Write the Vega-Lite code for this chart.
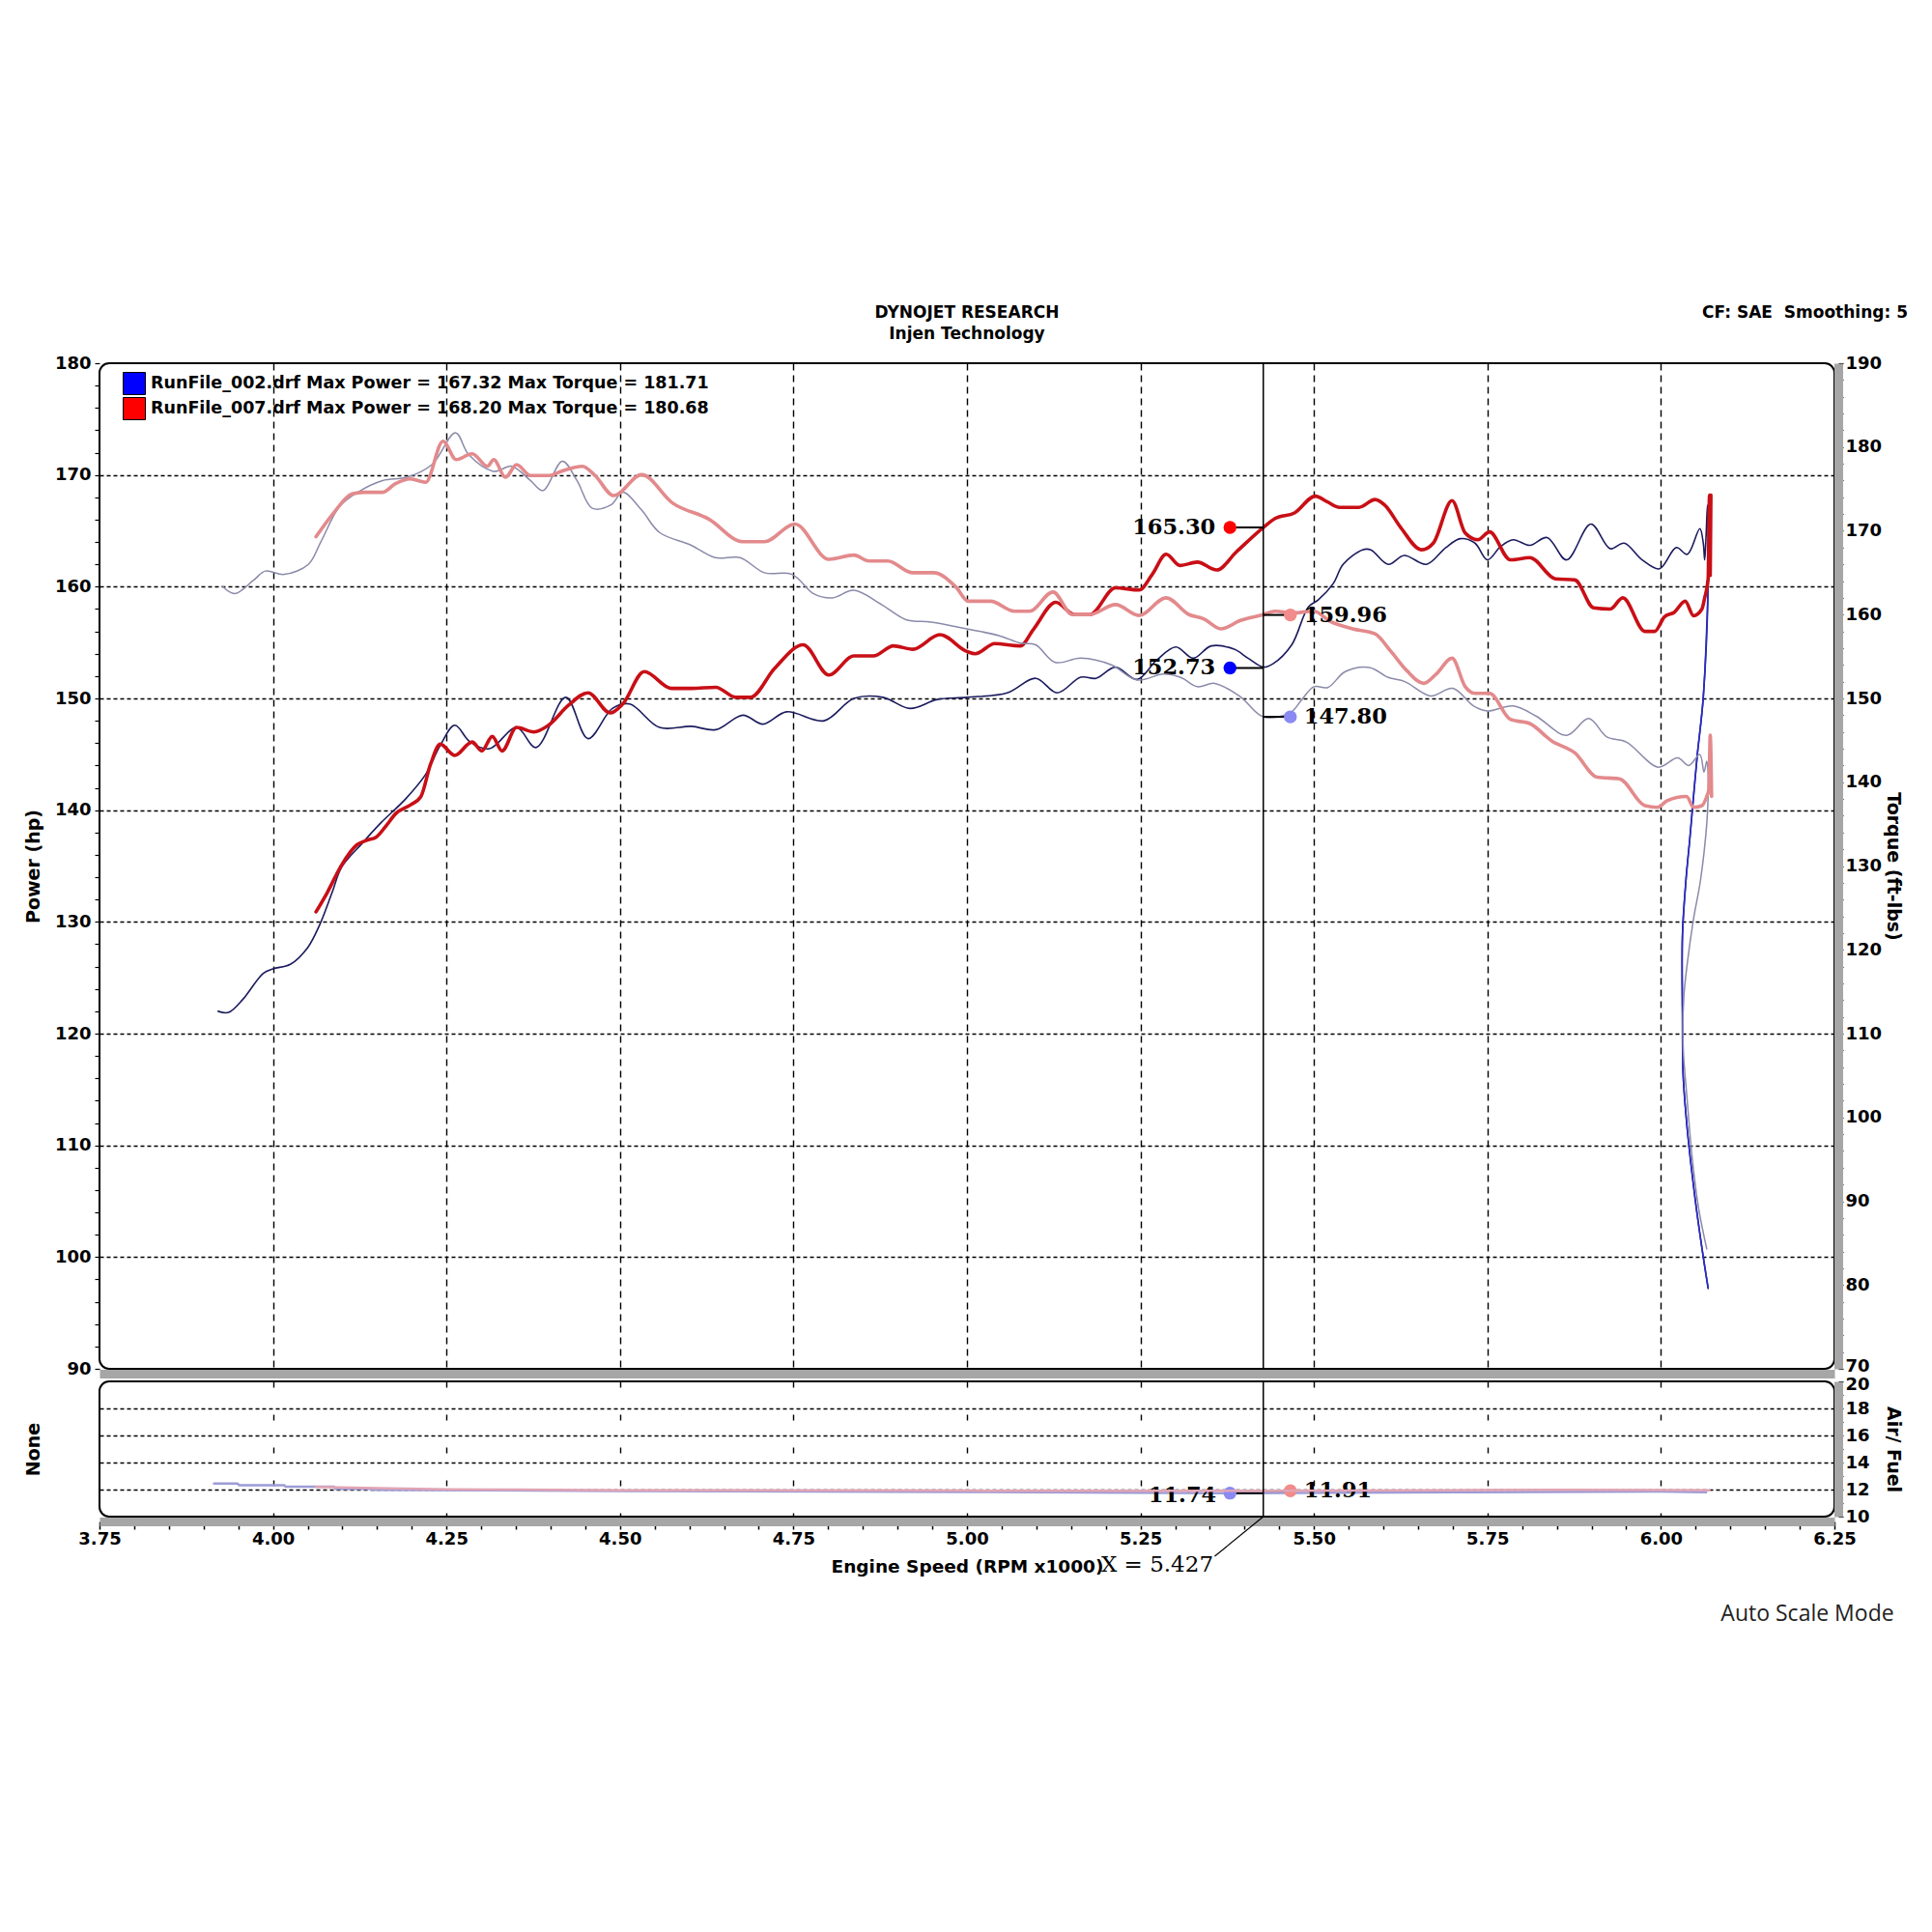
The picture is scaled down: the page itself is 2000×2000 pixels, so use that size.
{
  "$schema": "https://vega.github.io/schema/vega-lite/v6.json",
  "background": "#ffffff",
  "padding": {"left": 24, "top": 314, "right": 5, "bottom": 5},
  "title": {"text": "CF: SAE\u00a0 Smoothing: 5", "anchor": "end", "frame": "bounds", "font": "DejaVu Sans", "fontSize": 17, "fontWeight": "bold", "color": "#000000", "offset": -19, "dx": 6},
  "datasets": {
    "p2": [
      {"rpm":3.921,"hp":122.0,"i":0},{"rpm":3.936,"hp":121.9,"i":1},{"rpm":3.957,"hp":123.1,"i":2},{"rpm":3.986,"hp":125.4,"i":3},{"rpm":4.000,"hp":125.8,"i":4},{"rpm":4.025,"hp":126.2,"i":5},{"rpm":4.050,"hp":127.7,"i":6},{"rpm":4.067,"hp":129.7,"i":7},{"rpm":4.085,"hp":132.6,"i":8},{"rpm":4.099,"hp":134.9,"i":9},
      {"rpm":4.128,"hp":137.0,"i":10},{"rpm":4.156,"hp":138.9,"i":11},{"rpm":4.191,"hp":141.0,"i":12},{"rpm":4.220,"hp":143.2,"i":13},{"rpm":4.241,"hp":145.8,"i":14},{"rpm":4.262,"hp":147.6,"i":15},{"rpm":4.284,"hp":146.1,"i":16},{"rpm":4.312,"hp":145.5,"i":17},{"rpm":4.351,"hp":147.4,"i":18},{"rpm":4.379,"hp":145.6,"i":19},
      {"rpm":4.422,"hp":150.1,"i":20},{"rpm":4.454,"hp":146.4,"i":21},{"rpm":4.489,"hp":149.1,"i":22},{"rpm":4.514,"hp":149.5,"i":23},{"rpm":4.557,"hp":147.4,"i":24},{"rpm":4.603,"hp":147.5,"i":25},{"rpm":4.638,"hp":147.2,"i":26},{"rpm":4.677,"hp":148.5,"i":27},{"rpm":4.706,"hp":147.7,"i":28},{"rpm":4.740,"hp":148.8,"i":29},
      {"rpm":4.794,"hp":148.0,"i":30},{"rpm":4.837,"hp":150.0,"i":31},{"rpm":4.879,"hp":150.1,"i":32},{"rpm":4.918,"hp":149.1,"i":33},{"rpm":4.957,"hp":149.9,"i":34},{"rpm":5.000,"hp":150.1,"i":35},{"rpm":5.058,"hp":150.5,"i":36},{"rpm":5.099,"hp":151.8,"i":37},{"rpm":5.130,"hp":150.5,"i":38},{"rpm":5.164,"hp":151.9,"i":39},
      {"rpm":5.186,"hp":151.8,"i":40},{"rpm":5.214,"hp":152.8,"i":41},{"rpm":5.245,"hp":151.7,"i":42},{"rpm":5.273,"hp":153.4,"i":43},{"rpm":5.301,"hp":154.6,"i":44},{"rpm":5.326,"hp":153.6,"i":45},{"rpm":5.352,"hp":154.7,"i":46},{"rpm":5.385,"hp":154.4,"i":47},{"rpm":5.405,"hp":153.6,"i":48},{"rpm":5.427,"hp":152.8,"i":49},
      {"rpm":5.441,"hp":153.1,"i":50},{"rpm":5.468,"hp":154.8,"i":51},{"rpm":5.492,"hp":158.2,"i":52},{"rpm":5.506,"hp":158.8,"i":53},{"rpm":5.528,"hp":160.3,"i":54},{"rpm":5.542,"hp":162.0,"i":55},{"rpm":5.570,"hp":163.3,"i":56},{"rpm":5.582,"hp":163.3,"i":57},{"rpm":5.607,"hp":162.0,"i":58},{"rpm":5.630,"hp":162.8,"i":59},
      {"rpm":5.662,"hp":162.0,"i":60},{"rpm":5.690,"hp":163.5,"i":61},{"rpm":5.711,"hp":164.3,"i":62},{"rpm":5.732,"hp":163.9,"i":63},{"rpm":5.750,"hp":162.4,"i":64},{"rpm":5.769,"hp":163.6,"i":65},{"rpm":5.787,"hp":164.2,"i":66},{"rpm":5.811,"hp":163.7,"i":67},{"rpm":5.836,"hp":164.4,"i":68},{"rpm":5.864,"hp":162.4,"i":69},
      {"rpm":5.899,"hp":165.6,"i":70},{"rpm":5.927,"hp":163.4,"i":71},{"rpm":5.947,"hp":163.9,"i":72},{"rpm":5.973,"hp":162.4,"i":73},{"rpm":5.998,"hp":161.6,"i":74},{"rpm":6.022,"hp":163.5,"i":75},{"rpm":6.038,"hp":162.9,"i":76},{"rpm":6.056,"hp":165.2,"i":77},{"rpm":6.061,"hp":163.9,"i":78},{"rpm":6.063,"hp":162.4,"i":79},
      {"rpm":6.065,"hp":164.5,"i":80},{"rpm":6.067,"hp":167.3,"i":81},{"rpm":6.068,"hp":160.1,"i":82},{"rpm":6.061,"hp":150.1,"i":83},{"rpm":6.052,"hp":144.7,"i":84},{"rpm":6.042,"hp":137.7,"i":85},{"rpm":6.036,"hp":133.7,"i":86},{"rpm":6.031,"hp":128.8,"i":87},{"rpm":6.031,"hp":121.8,"i":88},{"rpm":6.032,"hp":116.3,"i":89},
      {"rpm":6.038,"hp":111.4,"i":90},{"rpm":6.045,"hp":107.4,"i":91},{"rpm":6.052,"hp":103.9,"i":92},{"rpm":6.061,"hp":100.0,"i":93},{"rpm":6.068,"hp":97.2,"i":94}
    ],
    "p7": [
      {"rpm":4.062,"hp":130.9},{"rpm":4.078,"hp":132.6},{"rpm":4.099,"hp":135.1},{"rpm":4.121,"hp":136.9},{"rpm":4.135,"hp":137.3},{"rpm":4.149,"hp":137.6},{"rpm":4.163,"hp":138.6},{"rpm":4.177,"hp":139.7},{"rpm":4.199,"hp":140.5},{"rpm":4.213,"hp":141.2},
      {"rpm":4.227,"hp":144.1},{"rpm":4.241,"hp":145.9},{"rpm":4.262,"hp":144.9},{"rpm":4.287,"hp":146.1},{"rpm":4.301,"hp":145.3},{"rpm":4.316,"hp":146.6},{"rpm":4.330,"hp":145.3},{"rpm":4.351,"hp":147.4},{"rpm":4.376,"hp":147.0},{"rpm":4.397,"hp":147.6},
      {"rpm":4.426,"hp":149.4},{"rpm":4.454,"hp":150.5},{"rpm":4.486,"hp":148.7},{"rpm":4.504,"hp":149.5},{"rpm":4.535,"hp":152.4},{"rpm":4.574,"hp":150.9},{"rpm":4.603,"hp":150.9},{"rpm":4.638,"hp":151.0},{"rpm":4.667,"hp":150.1},{"rpm":4.688,"hp":150.1},
      {"rpm":4.723,"hp":152.7},{"rpm":4.764,"hp":154.8},{"rpm":4.801,"hp":152.1},{"rpm":4.837,"hp":153.8},{"rpm":4.865,"hp":153.8},{"rpm":4.894,"hp":154.7},{"rpm":4.922,"hp":154.4},{"rpm":4.961,"hp":155.7},{"rpm":5.000,"hp":154.2},{"rpm":5.012,"hp":154.0},
      {"rpm":5.040,"hp":154.9},{"rpm":5.077,"hp":154.7},{"rpm":5.096,"hp":156.2},{"rpm":5.128,"hp":158.6},{"rpm":5.155,"hp":157.5},{"rpm":5.177,"hp":157.5},{"rpm":5.214,"hp":159.9},{"rpm":5.248,"hp":159.7},{"rpm":5.267,"hp":161.1},{"rpm":5.287,"hp":162.9},
      {"rpm":5.307,"hp":161.9},{"rpm":5.332,"hp":162.2},{"rpm":5.360,"hp":161.5},{"rpm":5.388,"hp":163.1},{"rpm":5.427,"hp":165.3},{"rpm":5.444,"hp":166.1},{"rpm":5.472,"hp":166.6},{"rpm":5.502,"hp":168.1},{"rpm":5.519,"hp":167.6},{"rpm":5.537,"hp":167.1},
      {"rpm":5.565,"hp":167.1},{"rpm":5.588,"hp":167.8},{"rpm":5.602,"hp":167.3},{"rpm":5.625,"hp":165.3},{"rpm":5.655,"hp":163.3},{"rpm":5.672,"hp":163.9},{"rpm":5.699,"hp":167.7},{"rpm":5.718,"hp":164.8},{"rpm":5.736,"hp":164.2},{"rpm":5.753,"hp":164.9},
      {"rpm":5.783,"hp":162.4},{"rpm":5.811,"hp":162.6},{"rpm":5.848,"hp":160.7},{"rpm":5.876,"hp":160.6},{"rpm":5.903,"hp":158.1},{"rpm":5.927,"hp":158.0},{"rpm":5.945,"hp":159.0},{"rpm":5.977,"hp":156.0},{"rpm":5.991,"hp":156.0},{"rpm":6.005,"hp":157.3},
      {"rpm":6.019,"hp":157.7},{"rpm":6.035,"hp":158.7},{"rpm":6.047,"hp":157.4},{"rpm":6.059,"hp":158.0},{"rpm":6.063,"hp":159.0},{"rpm":6.068,"hp":160.7},{"rpm":6.070,"hp":168.2},{"rpm":6.071,"hp":161.0},{"rpm":6.072,"hp":168.2}
    ],
    "t2": [
      {"rpm":3.927,"torque":163.4,"i":0},{"rpm":3.945,"torque":162.5,"i":1},{"rpm":3.972,"torque":164.1,"i":2},{"rpm":3.989,"torque":165.2,"i":3},{"rpm":4.016,"torque":164.8,"i":4},{"rpm":4.051,"torque":166.0,"i":5},{"rpm":4.069,"torque":168.7,"i":6},{"rpm":4.096,"torque":172.9,"i":7},{"rpm":4.122,"torque":174.6,"i":8},{"rpm":4.158,"torque":176.0,"i":9},
      {"rpm":4.193,"torque":176.4,"i":10},{"rpm":4.229,"torque":177.9,"i":11},{"rpm":4.263,"torque":181.7,"i":12},{"rpm":4.282,"torque":179.1,"i":13},{"rpm":4.318,"torque":177.1,"i":14},{"rpm":4.344,"torque":177.7,"i":15},{"rpm":4.371,"torque":176.0,"i":16},{"rpm":4.389,"torque":174.8,"i":17},{"rpm":4.417,"torque":178.3,"i":18},{"rpm":4.438,"torque":176.0,"i":19},
      {"rpm":4.460,"torque":172.7,"i":20},{"rpm":4.487,"torque":173.1,"i":21},{"rpm":4.504,"torque":174.6,"i":22},{"rpm":4.531,"torque":172.5,"i":23},{"rpm":4.557,"torque":169.8,"i":24},{"rpm":4.602,"torque":168.3,"i":25},{"rpm":4.637,"torque":166.8,"i":26},{"rpm":4.673,"torque":166.8,"i":27},{"rpm":4.708,"torque":165.0,"i":28},{"rpm":4.748,"torque":164.8,"i":29},
      {"rpm":4.779,"torque":162.5,"i":30},{"rpm":4.806,"torque":162.0,"i":31},{"rpm":4.837,"torque":162.9,"i":32},{"rpm":4.877,"torque":161.2,"i":33},{"rpm":4.912,"torque":159.4,"i":34},{"rpm":4.948,"torque":159.1,"i":35},{"rpm":5.000,"torque":158.3,"i":36},{"rpm":5.046,"torque":157.5,"i":37},{"rpm":5.077,"torque":156.6,"i":38},{"rpm":5.099,"torque":156.4,"i":39},
      {"rpm":5.127,"torque":154.3,"i":40},{"rpm":5.164,"torque":154.8,"i":41},{"rpm":5.208,"torque":154.0,"i":42},{"rpm":5.245,"torque":152.2,"i":43},{"rpm":5.283,"torque":152.9,"i":44},{"rpm":5.308,"torque":152.5,"i":45},{"rpm":5.332,"torque":151.4,"i":46},{"rpm":5.357,"torque":151.8,"i":47},{"rpm":5.394,"torque":150.2,"i":48},{"rpm":5.427,"torque":147.8,"i":49},
      {"rpm":5.466,"torque":148.3,"i":50},{"rpm":5.482,"torque":149.8,"i":51},{"rpm":5.500,"torque":151.4,"i":52},{"rpm":5.520,"torque":151.3,"i":53},{"rpm":5.545,"torque":153.2,"i":54},{"rpm":5.580,"torque":153.7,"i":55},{"rpm":5.607,"torque":152.5,"i":56},{"rpm":5.631,"torque":152.0,"i":57},{"rpm":5.668,"torque":150.3,"i":58},{"rpm":5.700,"torque":151.2,"i":59},
      {"rpm":5.730,"torque":149.1,"i":60},{"rpm":5.750,"torque":148.5,"i":61},{"rpm":5.787,"torque":149.1,"i":62},{"rpm":5.820,"torque":147.9,"i":63},{"rpm":5.864,"torque":145.6,"i":64},{"rpm":5.896,"torque":147.6,"i":65},{"rpm":5.922,"torque":145.4,"i":66},{"rpm":5.950,"torque":144.8,"i":67},{"rpm":5.996,"torque":141.8,"i":68},{"rpm":6.024,"torque":142.9,"i":69},
      {"rpm":6.040,"torque":142.0,"i":70},{"rpm":6.056,"torque":143.3,"i":71},{"rpm":6.062,"torque":141.2,"i":72},{"rpm":6.066,"torque":142.5,"i":73},{"rpm":6.068,"torque":141.0,"i":74},{"rpm":6.068,"torque":138.3,"i":75},{"rpm":6.066,"torque":135.0,"i":76},{"rpm":6.057,"torque":128.3,"i":77},{"rpm":6.047,"torque":123.7,"i":78},{"rpm":6.038,"torque":118.4,"i":79},
      {"rpm":6.033,"torque":114.4,"i":80},{"rpm":6.032,"torque":108.5,"i":81},{"rpm":6.038,"torque":101.9,"i":82},{"rpm":6.045,"torque":95.2,"i":83},{"rpm":6.054,"torque":89.3,"i":84},{"rpm":6.066,"torque":84.3,"i":85}
    ],
    "t7": [
      {"rpm":4.062,"torque":169.3},{"rpm":4.087,"torque":172.1},{"rpm":4.114,"torque":174.4},{"rpm":4.131,"torque":174.6},{"rpm":4.158,"torque":174.6},{"rpm":4.176,"torque":175.6},{"rpm":4.198,"torque":176.2},{"rpm":4.220,"torque":175.8},{"rpm":4.245,"torque":180.7},{"rpm":4.264,"torque":178.5},
      {"rpm":4.287,"torque":179.2},{"rpm":4.309,"torque":177.7},{"rpm":4.318,"torque":178.5},{"rpm":4.335,"torque":176.4},{"rpm":4.351,"torque":177.9},{"rpm":4.371,"torque":176.6},{"rpm":4.398,"torque":176.6},{"rpm":4.415,"torque":177.1},{"rpm":4.446,"torque":177.7},{"rpm":4.464,"torque":176.6},
      {"rpm":4.491,"torque":174.2},{"rpm":4.531,"torque":176.7},{"rpm":4.576,"torque":173.3},{"rpm":4.628,"torque":171.4},{"rpm":4.677,"torque":168.7},{"rpm":4.708,"torque":168.7},{"rpm":4.752,"torque":170.8},{"rpm":4.801,"torque":166.6},{"rpm":4.837,"torque":167.1},{"rpm":4.859,"torque":166.4},
      {"rpm":4.886,"torque":166.4},{"rpm":4.921,"torque":165.0},{"rpm":4.952,"torque":165.0},{"rpm":4.984,"torque":163.3},{"rpm":5.002,"torque":161.6},{"rpm":5.034,"torque":161.6},{"rpm":5.068,"torque":160.4},{"rpm":5.090,"torque":160.4},{"rpm":5.124,"torque":162.7},{"rpm":5.152,"torque":160.0},
      {"rpm":5.177,"torque":160.0},{"rpm":5.214,"torque":161.2},{"rpm":5.248,"torque":159.9},{"rpm":5.287,"torque":162.0},{"rpm":5.320,"torque":160.0},{"rpm":5.341,"torque":159.5},{"rpm":5.366,"torque":158.3},{"rpm":5.394,"torque":159.3},{"rpm":5.427,"torque":160.0},{"rpm":5.444,"torque":160.4},
      {"rpm":5.468,"torque":160.2},{"rpm":5.500,"torque":160.4},{"rpm":5.523,"torque":159.2},{"rpm":5.556,"torque":158.3},{"rpm":5.588,"torque":157.7},{"rpm":5.611,"torque":155.6},{"rpm":5.634,"torque":153.3},{"rpm":5.658,"torque":151.8},{"rpm":5.676,"torque":152.9},{"rpm":5.699,"torque":154.8},
      {"rpm":5.718,"torque":151.4},{"rpm":5.732,"torque":150.6},{"rpm":5.753,"torque":150.6},{"rpm":5.783,"torque":147.5},{"rpm":5.811,"torque":147.0},{"rpm":5.843,"torque":144.9},{"rpm":5.876,"torque":143.5},{"rpm":5.908,"torque":140.6},{"rpm":5.940,"torque":140.4},{"rpm":5.977,"torque":137.2},
      {"rpm":5.995,"torque":137.0},{"rpm":6.009,"torque":137.8},{"rpm":6.037,"torque":138.3},{"rpm":6.047,"torque":137.0},{"rpm":6.059,"torque":137.2},{"rpm":6.066,"torque":138.3},{"rpm":6.069,"torque":139.1},{"rpm":6.071,"torque":145.6},{"rpm":6.073,"torque":138.3}
    ],
    "a2": [
      {"rpm":3.915,"afr":12.45},{"rpm":3.949,"afr":12.45},{"rpm":3.951,"afr":12.33},{"rpm":4.016,"afr":12.33},{"rpm":4.018,"afr":12.21},{"rpm":4.088,"afr":12.21},{"rpm":4.09,"afr":12.05},{"rpm":4.14,"afr":12.05},{"rpm":4.142,"afr":11.98},{"rpm":4.3,"afr":11.95},{"rpm":4.5,"afr":11.9},{"rpm":5.0,"afr":11.82},{"rpm":5.379,"afr":11.74},{"rpm":5.7,"afr":11.8},{"rpm":6.0,"afr":11.85},{"rpm":6.065,"afr":11.8}
    ],
    "a7": [
      {"rpm":4.062,"afr":12.2},{"rpm":4.15,"afr":12.1},{"rpm":4.25,"afr":12.02},{"rpm":4.35,"afr":12.0},{"rpm":4.5,"afr":11.95},{"rpm":5.0,"afr":11.92},{"rpm":5.427,"afr":11.91},{"rpm":5.7,"afr":11.95},{"rpm":5.85,"afr":11.98},{"rpm":6.0,"afr":11.97},{"rpm":6.07,"afr":11.95}
    ],
    "powerCallouts": [
      {"run":"RunFile_007.drf","rpm":5.379,"cursor":5.427,"hp":165.30,"label":"165.30"},
      {"run":"RunFile_002.drf","rpm":5.379,"cursor":5.427,"hp":152.73,"label":"152.73"}
    ],
    "torqueCallouts": [
      {"run":"RunFile_007.drf","rpm":5.466,"cursor":5.427,"torque":159.96,"label":"159.96"},
      {"run":"RunFile_002.drf","rpm":5.466,"cursor":5.427,"torque":147.80,"label":"147.80"}
    ],
    "afrCallouts": [
      {"run":"RunFile_002.drf","rpm":5.379,"cursor":5.427,"afr":11.74,"label":"11.74"},
      {"run":"RunFile_007.drf","rpm":5.466,"cursor":5.427,"afr":11.91,"label":"11.91"}
    ]
  },
  "spacing": -4,
  "vconcat": [
    {
      "width": 1796,
      "height": 1041,
      "title": {"text": "DYNOJET RESEARCH", "subtitle": "Injen Technology", "anchor": "middle", "frame": "group", "font": "DejaVu Sans", "fontSize": 17, "fontWeight": "bold", "color": "#000000", "subtitleFont": "DejaVu Sans", "subtitleFontSize": 17, "subtitleFontWeight": "bold", "subtitleColor": "#000000", "subtitlePadding": 5, "offset": 12},
      "encoding": {
        "x": {"field": "rpm", "type": "quantitative", "scale": {"domain": [3.75, 6.25], "nice": false, "zero": false},
          "axis": {"orient": "bottom", "values": [4, 4.25, 4.5, 4.75, 5, 5.25, 5.5, 5.75, 6], "labels": false, "ticks": false, "title": null, "grid": true, "gridColor": "#000000", "gridDash": [7, 5], "gridWidth": 1.4, "domain": true, "domainColor": "#a6a6a6", "domainWidth": 9, "offset": 5}}
      },
      "layer": [
        {
          "encoding": {
            "y": {"field": "hp", "type": "quantitative", "scale": {"domain": [90, 180], "nice": false, "zero": false},
              "axis": {"orient": "left", "values": [90,92,94,96,98,100,102,104,106,108,110,112,114,116,118,120,122,124,126,128,130,132,134,136,138,140,142,144,146,148,150,152,154,156,158,160,162,164,166,168,170,172,174,176,178,180],
                "labelExpr": "datum.value % 10 === 0 ? datum.label : ''", "labelOverlap": false, "labelBound": false,
                "ticks": true, "tickSize": 5, "tickColor": "#000000", "tickWidth": 1.2, "domain": false,
                "grid": true, "gridColor": "#000000", "gridDash": [4, 3], "gridWidth": 1.5,
                "gridOpacity": {"condition": {"test": "datum.value % 10 === 0 && datum.value > 90 && datum.value < 180", "value": 1}, "value": 0},
                "labelFont": "DejaVu Sans", "labelFontSize": 18, "labelFontWeight": "bold", "labelColor": "#000000", "labelPadding": 4,
                "minExtent": 48, "maxExtent": 48, "title": "Power (hp)", "titleFont": "DejaVu Sans", "titleFontSize": 19, "titleFontWeight": "bold", "titleColor": "#000000", "titlePadding": 11}}
          },
          "layer": [
            {"data": {"name": "p2"}, "mark": {"type": "line", "color": "#1b1b5e", "strokeWidth": 1.6, "interpolate": "catmull-rom"}, "encoding": {"order": {"field": "i", "type": "quantitative"}}},
            {"data": {"name": "p2"}, "transform": [{"filter": "datum.i >= 82"}], "mark": {"type": "line", "color": "#2b2bc8", "strokeWidth": 1.6, "interpolate": "catmull-rom"}, "encoding": {"order": {"field": "i", "type": "quantitative"}}},
            {"data": {"name": "p7"}, "mark": {"type": "line", "color": "#c80f16", "strokeWidth": 3.6, "interpolate": "monotone"}, "encoding": {}},
            {"data": {"name": "powerCallouts"}, "mark": {"type": "rule", "color": "#000000", "strokeWidth": 2}, "encoding": {"x2": {"field": "cursor"}}},
            {"data": {"name": "powerCallouts"}, "mark": {"type": "point", "shape": "circle", "filled": true, "size": 180, "opacity": 1},
              "encoding": {"fill": {"field": "run", "type": "nominal", "scale": {"domain": ["RunFile_002.drf", "RunFile_007.drf"], "range": ["#0000ff", "#ff0000"]},
                "legend": {"title": null, "orient": "none", "legendX": 24, "legendY": 9, "symbolType": "square", "symbolSize": 529, "symbolStrokeColor": "#000000", "symbolStrokeWidth": 1, "symbolOpacity": 1, "rowPadding": -7.5, "labelOffset": 5, "labelFont": "DejaVu Sans", "labelFontWeight": "bold", "labelFontSize": 17.5, "labelColor": "#000000", "labelLimit": 1000, "padding": 0,
                  "labelExpr": "datum.label === 'RunFile_002.drf' ? 'RunFile_002.drf Max Power = 167.32 Max Torque = 181.71' : 'RunFile_007.drf Max Power = 168.20 Max Torque = 180.68'"}}}},
            {"data": {"name": "powerCallouts"}, "mark": {"type": "text", "align": "right", "baseline": "middle", "dx": -15, "font": "DejaVu Serif", "fontWeight": "bold", "fontSize": 22.5, "color": "#000000"}, "encoding": {"text": {"field": "label"}}}
          ]
        },
        {
          "encoding": {
            "y": {"field": "torque", "type": "quantitative", "scale": {"domain": [70, 190], "nice": false, "zero": false},
              "axis": {"orient": "right", "values": [70,72,74,76,78,80,82,84,86,88,90,92,94,96,98,100,102,104,106,108,110,112,114,116,118,120,122,124,126,128,130,132,134,136,138,140,142,144,146,148,150,152,154,156,158,160,162,164,166,168,170,172,174,176,178,180,182,184,186,188,190],
                "labelExpr": "datum.value % 10 === 0 ? datum.label : ''", "labelOverlap": false, "labelBound": false,
                "labelOffset": {"condition": {"test": "datum.value === 70", "value": -3}, "value": 0},
                "ticks": true, "tickSize": 5, "tickColor": "#000000", "tickWidth": 1.2, "domain": true, "domainColor": "#a6a6a6", "domainWidth": 9, "offset": 4, "grid": false,
                "labelFont": "DejaVu Sans", "labelFontSize": 18, "labelFontWeight": "bold", "labelColor": "#000000", "labelPadding": 2,
                "minExtent": 44, "maxExtent": 44, "title": "Torque (ft-lbs)", "titleFont": "DejaVu Sans", "titleFontSize": 19, "titleFontWeight": "bold", "titleColor": "#000000", "titlePadding": 2}}
          },
          "layer": [
            {"data": {"name": "t2"}, "mark": {"type": "line", "color": "#8a8aaa", "strokeWidth": 1.5, "interpolate": "catmull-rom"}, "encoding": {"order": {"field": "i", "type": "quantitative"}}},
            {"data": {"name": "t7"}, "mark": {"type": "line", "color": "#e38a8c", "strokeWidth": 3.6, "interpolate": "monotone"}, "encoding": {}},
            {"data": {"name": "torqueCallouts"}, "mark": {"type": "rule", "color": "#000000", "strokeWidth": 2}, "encoding": {"x2": {"field": "cursor"}}},
            {"data": {"name": "torqueCallouts"}, "mark": {"type": "point", "shape": "circle", "filled": true, "size": 180, "opacity": 1},
              "encoding": {"color": {"condition": {"test": "datum.run === 'RunFile_007.drf'", "value": "#f28b8b"}, "value": "#8a8af2"}}},
            {"data": {"name": "torqueCallouts"}, "mark": {"type": "text", "align": "left", "baseline": "middle", "dx": 14, "font": "DejaVu Serif", "fontWeight": "bold", "fontSize": 22.5, "color": "#000000"}, "encoding": {"text": {"field": "label"}}}
          ]
        },
        {"data": {"values": [{"rpm": 5.427}]}, "mark": {"type": "rule", "color": "#000000", "strokeWidth": 1.5}, "encoding": {}}
      ],
      "resolve": {"scale": {"y": "independent"}}
    },
    {
      "width": 1796,
      "height": 140,
      "encoding": {
        "x": {"field": "rpm", "type": "quantitative", "scale": {"domain": [3.75, 6.25], "nice": false, "zero": false},
          "axis": {"orient": "bottom", "values": [3.75,3.8,3.85,3.9,3.95,4,4.05,4.1,4.15,4.2,4.25,4.3,4.35,4.4,4.45,4.5,4.55,4.6,4.65,4.7,4.75,4.8,4.85,4.9,4.95,5,5.05,5.1,5.15,5.2,5.25,5.3,5.35,5.4,5.45,5.5,5.55,5.6,5.65,5.7,5.75,5.8,5.85,5.9,5.95,6,6.05,6.1,6.15,6.2,6.25],
            "labelExpr": "round(datum.value*100) % 25 === 0 ? format(datum.value, '.2f') : ''", "labelOverlap": false, "labelFlush": false, "labelBound": false,
            "ticks": true, "tickColor": "#000000", "tickSize": 8, "tickWidth": 1.5,
            "grid": true, "gridColor": "#000000", "gridDash": [6, 28], "gridWidth": 1.4,
            "gridOpacity": {"condition": {"test": "round(datum.value*100) % 25 === 0 && datum.value > 3.8 && datum.value < 6.2", "value": 1}, "value": 0},
            "domain": true, "domainColor": "#a6a6a6", "domainWidth": 9, "offset": 5,
            "labelFont": "DejaVu Sans", "labelFontWeight": "bold", "labelFontSize": 18, "labelColor": "#000000", "labelPadding": 1,
            "title": "Engine Speed (RPM x1000)", "titleFont": "DejaVu Sans", "titleFontSize": 18.5, "titleFontWeight": "bold", "titleColor": "#000000", "titlePadding": 10}}
      },
      "layer": [
        {
          "encoding": {
            "y": {"field": "afr", "type": "quantitative", "scale": {"domain": [10, 20], "nice": false, "zero": false},
              "axis": {"orient": "left", "values": [12, 14, 16, 18], "labels": false, "ticks": false, "domain": false,
                "grid": true, "gridColor": "#000000", "gridDash": [4, 3], "gridWidth": 1.5,
                "minExtent": 48, "maxExtent": 48, "title": "None", "titleFont": "DejaVu Sans", "titleFontSize": 19, "titleFontWeight": "bold", "titleColor": "#000000", "titlePadding": 11}}
          },
          "layer": [
            {"data": {"name": "a2"}, "mark": {"type": "line", "color": "#9c9cd6", "strokeWidth": 2.5}, "encoding": {}},
            {"data": {"name": "afrCallouts"}, "mark": {"type": "rule", "color": "#000000", "strokeWidth": 2}, "encoding": {"x2": {"field": "cursor"}}},
            {"data": {"name": "afrCallouts"}, "mark": {"type": "point", "shape": "circle", "filled": true, "size": 180, "opacity": 1},
              "encoding": {"color": {"condition": {"test": "datum.run === 'RunFile_007.drf'", "value": "#f28b8b"}, "value": "#8a8af2"}}},
            {"data": {"name": "afrCallouts"}, "transform": [{"filter": "datum.run === 'RunFile_002.drf'"}], "mark": {"type": "text", "align": "right", "baseline": "middle", "dx": -14, "dy": 2, "font": "DejaVu Serif", "fontWeight": "bold", "fontSize": 22.5, "color": "#000000"}, "encoding": {"text": {"field": "label"}}},
            {"data": {"name": "afrCallouts"}, "transform": [{"filter": "datum.run === 'RunFile_007.drf'"}], "mark": {"type": "text", "align": "left", "baseline": "middle", "dx": 14, "font": "DejaVu Serif", "fontWeight": "bold", "fontSize": 22.5, "color": "#000000"}, "encoding": {"text": {"field": "label"}}}
          ]
        },
        {
          "encoding": {
            "y": {"field": "afr", "type": "quantitative", "scale": {"domain": [10, 20], "nice": false, "zero": false},
              "axis": {"orient": "right", "values": [10,11,12,13,14,15,16,17,18,19,20], "labelExpr": "datum.value % 2 === 0 ? datum.label : ''", "labelOverlap": false, "labelBound": false,
                "labelOffset": {"condition": {"test": "datum.value === 20", "value": 3}, "value": 0},
                "ticks": true, "tickSize": 5, "tickColor": "#000000", "tickWidth": 1.2, "domain": true, "domainColor": "#a6a6a6", "domainWidth": 9, "offset": 4, "grid": false,
                "labelFont": "DejaVu Sans", "labelFontSize": 18, "labelFontWeight": "bold", "labelColor": "#000000", "labelPadding": 2,
                "minExtent": 44, "maxExtent": 44, "title": "Air/ Fuel", "titleFont": "DejaVu Sans", "titleFontSize": 19, "titleFontWeight": "bold", "titleColor": "#000000", "titlePadding": 2}}
          },
          "layer": [
            {"data": {"name": "a7"}, "mark": {"type": "line", "color": "#e2a4b4", "strokeWidth": 2.5}, "encoding": {}},
            {"data": {"values": [{"rpm": 5.427, "rpm2": 5.357, "afr": 10, "afr2": 7.07}]}, "mark": {"type": "rule", "color": "#000000", "strokeWidth": 1.2}, "encoding": {"x2": {"field": "rpm2"}, "y2": {"field": "afr2"}}},
            {"data": {"values": [{"rpm": 5.355, "afr": 6.43, "label": "X = 5.427"}]}, "mark": {"type": "text", "align": "right", "baseline": "middle", "font": "DejaVu Serif", "fontSize": 23, "color": "#000000"}, "encoding": {"text": {"field": "label"}}},
            {"data": {"values": [{"rpm": 6.211, "afr": 2.79, "label": "Auto Scale Mode"}]}, "mark": {"type": "text", "align": "center", "baseline": "middle", "font": "Open Sans", "fontSize": 23, "color": "#222222"}, "encoding": {"text": {"field": "label"}}}
          ]
        },
        {"data": {"values": [{"rpm": 5.427}]}, "mark": {"type": "rule", "color": "#000000", "strokeWidth": 1.5}, "encoding": {}}
      ],
      "resolve": {"scale": {"y": "independent"}}
    }
  ],
  "config": {
    "view": {"stroke": "#000000", "strokeWidth": 2, "cornerRadius": 10, "fill": "#ffffff"},
    "legend": {"padding": 0},
    "line": {"strokeJoin": "round", "strokeCap": "round"}
  }
}
